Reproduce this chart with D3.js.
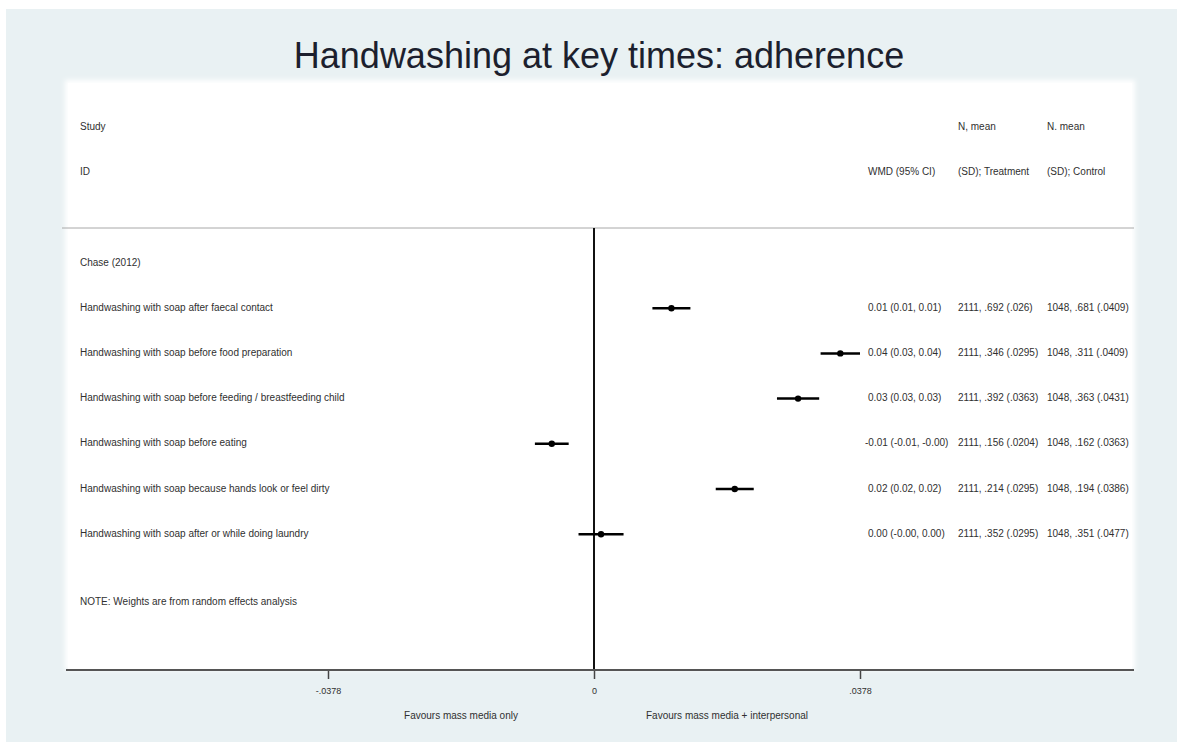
<!DOCTYPE html>
<html>
<head>
<meta charset="utf-8">
<script src="https://cdn.jsdelivr.net/npm/d3@7"></script>
<style>
  html, body { margin: 0; padding: 0; background: #ffffff; }
  svg { display: block; font-family: "Liberation Sans", Arial, sans-serif; }
</style>
</head>
<body>
<svg id="chart" width="1177" height="742"></svg>
<script>
// ---------- data ----------
const title = "Handwashing at key times: adherence";
const studyLabel = "Chase (2012)";
const outcomes = [
  "Handwashing with soap after faecal contact",
  "Handwashing with soap before food preparation",
  "Handwashing with soap before feeding / breastfeeding child",
  "Handwashing with soap before eating",
  "Handwashing with soap because hands look or feel dirty",
  "Handwashing with soap after or while doing laundry"
];
const wmd   = [0.011, 0.035, 0.029, -0.006, 0.020, 0.001];
const ciLow = [0.0083, 0.0322, 0.0260, -0.0084, 0.0173, -0.0022];
const ciHigh= [0.0137, 0.0378, 0.0320, -0.0036, 0.0227, 0.0042];
const wmdText = [
  "0.01 (0.01, 0.01)",
  "0.04 (0.03, 0.04)",
  "0.03 (0.03, 0.03)",
  "-0.01 (-0.01, -0.00)",
  "0.02 (0.02, 0.02)",
  "0.00 (-0.00, 0.00)"
];
const treatText = [
  "2111, .692 (.026)",
  "2111, .346 (.0295)",
  "2111, .392 (.0363)",
  "2111, .156 (.0204)",
  "2111, .214 (.0295)",
  "2111, .352 (.0295)"
];
const controlText = [
  "1048, .681 (.0409)",
  "1048, .311 (.0409)",
  "1048, .363 (.0431)",
  "1048, .162 (.0363)",
  "1048, .194 (.0386)",
  "1048, .351 (.0477)"
];
const headerLeft = ["Study", "ID"];
const headerWMD = ["", "WMD (95% CI)"];
const headerTreat = ["N, mean", "(SD); Treatment"];
const headerControl = ["N. mean", "(SD); Control"];
const tickValues = [-0.0378, 0, 0.0378];
const tickLabels = ["-.0378", "0", ".0378"];
const favoursLabels = ["Favours mass media only", "Favours mass media + interpersonal"];
const noteText = "NOTE: Weights are from random effects analysis";

// ---------- layout ----------
const svg = d3.select("#chart");
const textColor = "#303030";

const defs = svg.append("defs");
defs.append("filter").attr("id", "soft").attr("x", "-5%").attr("y", "-5%")
  .attr("width", "110%").attr("height", "110%")
  .append("feGaussianBlur").attr("stdDeviation", 2.5);

// background panels
svg.append("rect").attr("x", 6).attr("y", 9).attr("width", 1171).attr("height", 733)
  .attr("fill", "#e9f1f3");
svg.append("rect").attr("x", 65).attr("y", 80).attr("width", 1070).attr("height", 590)
  .attr("fill", "#ffffff").attr("filter", "url(#soft)");
svg.append("rect").attr("x", 68).attr("y", 83).attr("width", 1064).attr("height", 587)
  .attr("fill", "#ffffff");

// title
svg.append("text").attr("x", 599).attr("y", 58)
  .attr("text-anchor", "middle").attr("dominant-baseline", "middle")
  .attr("font-size", 36).attr("fill", "#1c1f2e").text(title);

// scales
const x = d3.scaleLinear().domain([-0.0378, 0.0378]).range([328, 860]);
const y = d3.scaleLinear().domain([0, 1]).range([263, 308.2]); // row index -> y
const yHead = d3.scaleLinear().domain([0, 1]).range([127, 172]);

const colLabel = 80, colWMD = 868, colTreat = 958, colCtrl = 1047;

// header
const hdr = svg.append("g").attr("font-size", 10).attr("fill", textColor)
  .attr("dominant-baseline", "middle");
headerLeft.forEach((t, i) => hdr.append("text").attr("x", colLabel).attr("y", yHead(i)).text(t));
headerWMD.forEach((t, i) => hdr.append("text").attr("x", colWMD).attr("y", yHead(i)).text(t));
headerTreat.forEach((t, i) => hdr.append("text").attr("x", colTreat).attr("y", yHead(i)).text(t));
headerControl.forEach((t, i) => hdr.append("text").attr("x", colCtrl).attr("y", yHead(i)).text(t));

// header divider
svg.append("line").attr("x1", 62).attr("x2", 1134).attr("y1", 228).attr("y2", 228)
  .attr("stroke", "#a8a8a8").attr("stroke-width", 1);

// null line
svg.append("line").attr("x1", x(0)).attr("x2", x(0)).attr("y1", 228).attr("y2", 670)
  .attr("stroke", "#111").attr("stroke-width", 2);

// rows text
const body = svg.append("g").attr("font-size", 10).attr("fill", textColor)
  .attr("dominant-baseline", "middle");
body.append("text").attr("x", colLabel).attr("y", y(0)).text(studyLabel);
outcomes.forEach((t, i) => {
  const yy = y(i + 1);
  body.append("text").attr("x", colLabel).attr("y", yy).text(t);
  body.append("text").attr("x", colWMD).attr("y", yy)
    .attr("dx", wmdText[i].startsWith("-") ? -3 : 0).text(wmdText[i]);
  body.append("text").attr("x", colTreat).attr("y", yy).text(treatText[i]);
  body.append("text").attr("x", colCtrl).attr("y", yy).text(controlText[i]);
});
body.append("text").attr("x", colLabel).attr("y", y(7.5)).text(noteText);

// CIs and points
const marks = svg.append("g");
outcomes.forEach((t, i) => {
  const yy = y(i + 1);
  marks.append("line").attr("x1", x(ciLow[i])).attr("x2", x(ciHigh[i]))
    .attr("y1", yy).attr("y2", yy).attr("stroke", "#000").attr("stroke-width", 2.5);
  marks.append("circle").attr("cx", x(wmd[i])).attr("cy", yy).attr("r", 3.2).attr("fill", "#000");
});

// axis
const axisG = svg.append("g").attr("transform", "translate(0,670)");
axisG.call(d3.axisBottom(x).tickValues(tickValues)
  .tickFormat((d, i) => tickLabels[i]).tickSize(9).tickSizeOuter(0).tickPadding(9));
axisG.select(".domain").remove();
axisG.selectAll(".tick line").attr("stroke", "#444").attr("stroke-width", 1.5);
axisG.selectAll(".tick text").attr("font-size", 9).attr("fill", textColor)
  .attr("font-family", "Liberation Sans, Arial, sans-serif");
axisG.append("line").attr("x1", 66).attr("x2", 1134).attr("y1", 0).attr("y2", 0)
  .attr("stroke", "#555").attr("stroke-width", 2);

// favours labels
const fav = svg.append("g").attr("font-size", 10).attr("fill", textColor)
  .attr("text-anchor", "middle").attr("dominant-baseline", "middle");
fav.append("text").attr("x", x(-0.0378 / 2)).attr("y", 716).text(favoursLabels[0]);
fav.append("text").attr("x", x(0.0378 / 2)).attr("y", 716).text(favoursLabels[1]);
</script>
</body>
</html>
